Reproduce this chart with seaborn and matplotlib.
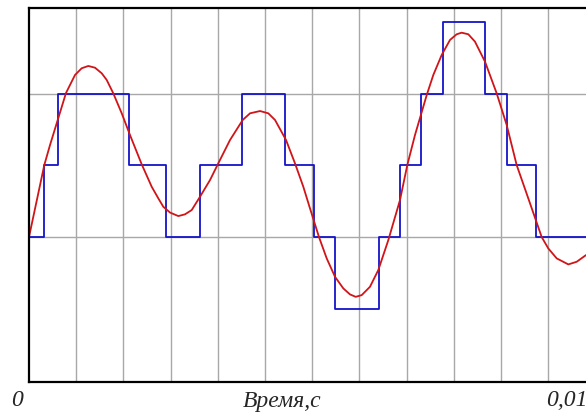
import matplotlib
matplotlib.use("Agg")
import matplotlib.pyplot as plt
import seaborn as sns
import pandas as pd

# stepped (quantized) signal: switching times, s, and level after each switch
step_t = [0.0, 0.000259, 0.000512, 0.001766, 0.002413, 0.003019, 0.003766,
          0.004525, 0.005037, 0.005408, 0.006179, 0.006555, 0.006926,
          0.007304, 0.008056, 0.008439, 0.008946, 0.01]
step_level = [0, 1, 2, 1, 0, 1, 2, 1, 0, -1, 0, 1, 2, 3, 2, 1, 0, 0]

# smooth signal
wave_t = [0.0, 0.000270, 0.000371, 0.000507, 0.000653, 0.000812, 0.000930,
          0.001047, 0.001165, 0.001284, 0.001372, 0.001488, 0.001637,
          0.001783, 0.001990, 0.002166, 0.002283, 0.002371, 0.002489,
          0.002636, 0.002754, 0.002873, 0.003019, 0.003196, 0.003342,
          0.003549, 0.003773, 0.003902, 0.004079, 0.004225, 0.004344,
          0.004538, 0.004696, 0.004843, 0.004961, 0.005120, 0.005256,
          0.005403, 0.005549, 0.005667, 0.005768, 0.005874, 0.006020,
          0.006167, 0.006344, 0.006550, 0.006679, 0.006815, 0.007022,
          0.007138, 0.007286, 0.007433, 0.007551, 0.007639, 0.007756,
          0.007874, 0.008051, 0.008257, 0.008434, 0.008610, 0.008815,
          0.009052, 0.009168, 0.009317, 0.009522, 0.009670, 0.009834]
wave_y = [0.0, 1.004, 1.283, 1.632, 2.008, 2.259, 2.353, 2.385, 2.361,
          2.283, 2.190, 2.004, 1.725, 1.423, 1.014, 0.702, 0.540, 0.423,
          0.342, 0.293, 0.317, 0.377, 0.562, 0.795, 1.028, 1.353, 1.632,
          1.725, 1.757, 1.725, 1.632, 1.353, 1.028, 0.702, 0.400, 0.0,
          -0.297, -0.554, -0.715, -0.799, -0.833, -0.809, -0.693, -0.460,
          -0.042, 0.516, 1.004, 1.423, 1.980, 2.259, 2.538, 2.748, 2.827,
          2.849, 2.827, 2.724, 2.445, 2.004, 1.562, 1.004, 0.540, 0.0,
          -0.158, -0.297, -0.381, -0.344, -0.251]

x_grid = [k * 0.01 / 12 for k in range(1, 12)]
y_grid = [0, 2]
x_labels = ["0", "0,01"]
x_title = "Время,с"

steps = pd.DataFrame({"t": step_t, "u": step_level})
wave = pd.DataFrame({"t": wave_t, "u": wave_y})

sns.set_style("white")
plt.rcParams["font.family"] = ["Liberation Serif", "DejaVu Serif"]

fig = plt.figure(figsize=(5.86, 4.12), dpi=100)
# plot area runs past the right edge of the picture, as in the reference
ax = fig.add_axes([29 / 586, 30 / 412, 566.4 / 586, 374.5 / 412])

sns.lineplot(data=steps, x="t", y="u", ax=ax, color="#1414c8", lw=1.3,
             drawstyle="steps-post", estimator=None, sort=False)
sns.lineplot(data=wave, x="t", y="u", ax=ax, color="#d01418", lw=1.3,
             estimator=None, sort=False)

ax.set_xlim(0, 0.01)
ax.set_ylim(-2.02, 3.2)
for xv in x_grid:
    ax.axvline(xv, color="#a8a8a8", lw=1.0, zorder=0)
for yv in y_grid:
    ax.axhline(yv, color="#a8a8a8", lw=1.0, zorder=0)

ax.set_xticks([])
ax.set_yticks([])
ax.set_xlabel("")
ax.set_ylabel("")
for side in ["left", "top", "bottom"]:
    ax.spines[side].set_color("black")
    ax.spines[side].set_linewidth(1.6)
ax.spines["right"].set_visible(False)

fig.text(17.5 / 586, 5.5 / 412, x_labels[0], ha="center", va="baseline",
         fontsize=17, style="italic")
fig.text(282 / 586, 5.5 / 412, x_title, ha="center", va="baseline",
         fontsize=17, style="italic")
fig.text(546 / 586, 5.5 / 412, x_labels[1], ha="left", va="baseline",
         fontsize=17, style="italic")

fig.savefig("out.png", dpi=100)
